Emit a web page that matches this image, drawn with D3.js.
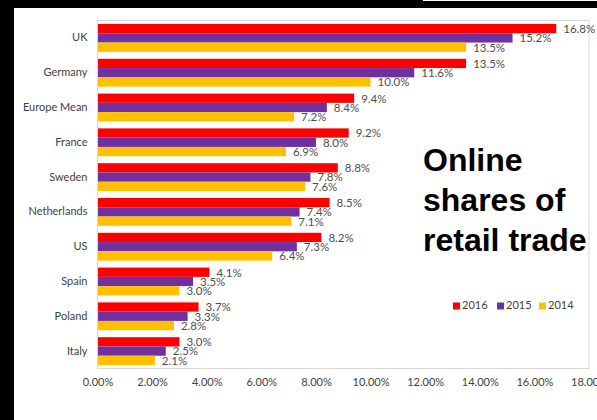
<!DOCTYPE html>
<html>
<head>
<meta charset="utf-8">
<script src="https://cdn.jsdelivr.net/npm/d3@7"></script>
<style>
  html, body { margin: 0; padding: 0; background: #ffffff; }
  svg { display: block; }
</style>
</head>
<body>
<svg id="chart" width="597" height="420"></svg>
<script>
// Online shares of retail trade, by country and year
const categories = ["UK", "Germany", "Europe Mean", "France", "Sweden", "Netherlands", "US", "Spain", "Poland", "Italy"];
const years = ["2016", "2015", "2014"];
const values2016 = [16.8, 13.5, 9.4, 9.2, 8.8, 8.5, 8.2, 4.1, 3.7, 3.0];
const values2015 = [15.2, 11.6, 8.4, 8.0, 7.8, 7.4, 7.3, 3.5, 3.3, 2.5];
const values2014 = [13.5, 10.0, 7.2, 6.9, 7.6, 7.1, 6.4, 3.0, 2.8, 2.1];
const xTicks = [0, 2, 4, 6, 8, 10, 12, 14, 16, 18];
const colors = ["#ff0000", "#7030a0", "#ffc000"];

const seriesValues = [values2016, values2015, values2014];
const svg = d3.select("#chart");
const font = "Lato, 'Open Sans', sans-serif";

// dark frame along the top and left edges of the sheet
const frame = svg.append("g");
frame.append("rect").attr("x", 0).attr("y", 0).attr("width", 597).attr("height", 8).attr("fill", "#000000");
frame.append("rect").attr("x", 0).attr("y", 0).attr("width", 14).attr("height", 420).attr("fill", "#000000");
frame.append("rect").attr("x", 423).attr("y", 0).attr("width", 174).attr("height", 1).attr("fill", "#ffffff");

const plot = { left: 97.5, top: 20.5, right: 589, bottom: 368.5 };

const x = d3.scaleLinear().domain([0, 18]).range([plot.left, plot.right]);
const y = d3.scaleBand().domain(categories).range([plot.top, plot.bottom]).paddingInner(0.2).paddingOuter(0.1);
const ySub = d3.scaleBand().domain(years).range([0, y.bandwidth()]);

// plot area frame
svg.append("rect")
  .attr("x", plot.left).attr("y", plot.top)
  .attr("width", plot.right - plot.left).attr("height", plot.bottom - plot.top)
  .attr("fill", "none").attr("stroke", "#d9d9d9").attr("stroke-width", 1);

// bars
const groups = svg.append("g").selectAll("g")
  .data(categories)
  .join("g")
  .attr("transform", d => `translate(0,${y(d)})`);

years.forEach((yr, si) => {
  groups.append("rect")
    .attr("x", x(0))
    .attr("y", ySub(yr))
    .attr("width", (d, i) => x(seriesValues[si][i]) - x(0))
    .attr("height", ySub.bandwidth())
    .attr("fill", colors[si]);
});

// value labels
years.forEach((yr, si) => {
  groups.append("text")
    .attr("x", (d, i) => x(seriesValues[si][i]) + 7)
    .attr("y", ySub(yr) + ySub.bandwidth() / 2 + 1.5)
    .attr("dominant-baseline", "middle")
    .attr("font-family", font)
    .attr("font-size", 11.5)
    .attr("fill", "#4d4d4d")
    .text((d, i) => seriesValues[si][i].toFixed(1) + "%");
});

// left axis line
svg.append("line")
  .attr("x1", plot.left).attr("x2", plot.left)
  .attr("y1", plot.top).attr("y2", plot.bottom)
  .attr("stroke", "#d9d9d9");

// category axis
const yAxis = svg.append("g")
  .attr("transform", `translate(${plot.left},0)`)
  .call(d3.axisLeft(y).tickSize(0).tickPadding(10));
yAxis.select(".domain").remove();
yAxis.selectAll("text")
  .attr("font-family", font)
  .attr("font-size", 11)
  .attr("fill", "#404040");

// value axis
const xAxis = svg.append("g")
  .attr("transform", `translate(0,${plot.bottom})`)
  .call(d3.axisBottom(x).tickValues(xTicks).tickSize(0).tickPadding(10)
    .tickFormat(d => d.toFixed(2) + "%"));
xAxis.select(".domain").remove();
xAxis.selectAll("text")
  .attr("font-family", font)
  .attr("font-size", 11)
  .attr("fill", "#404040");

// legend
const legend = svg.append("g").attr("transform", "translate(453,306)");
const legendX = [0, 44, 86];
years.forEach((yr, si) => {
  legend.append("rect")
    .attr("x", legendX[si]).attr("y", -3.5)
    .attr("width", 7).attr("height", 7)
    .attr("fill", colors[si]);
  legend.append("text")
    .attr("x", legendX[si] + 9).attr("y", 0)
    .attr("dominant-baseline", "middle")
    .attr("font-family", font)
    .attr("font-size", 11)
    .attr("fill", "#404040")
    .text(yr);
});

// title block
const titleLines = ["Online", "shares of", "retail trade"];
svg.append("g").selectAll("text")
  .data(titleLines)
  .join("text")
  .attr("x", 423)
  .attr("y", (d, i) => 171 + i * 40)
  .attr("font-family", "'Liberation Sans', Arial, sans-serif")
  .attr("font-weight", "bold")
  .attr("font-size", 32)
  .attr("fill", "#000")
  .text(d => d);
</script>
</body>
</html>
